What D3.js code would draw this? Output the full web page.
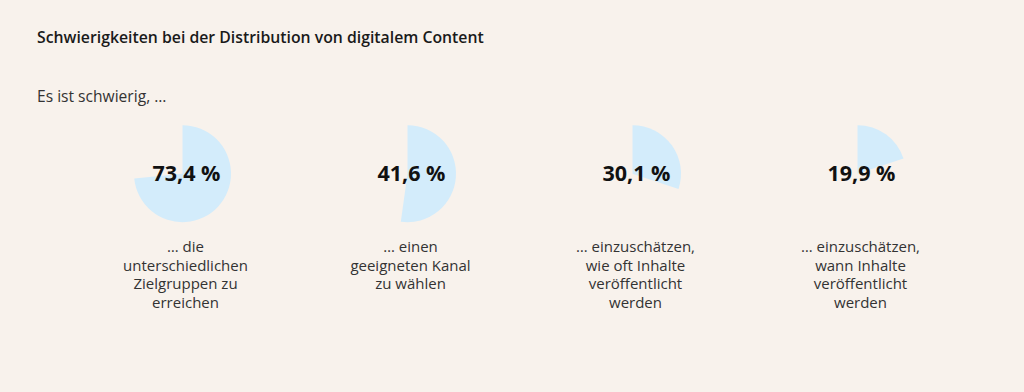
<!DOCTYPE html>
<html>
<head>
<meta charset="utf-8">
<script src="https://cdn.jsdelivr.net/npm/d3@7"></script>
<style>
  html, body { margin: 0; padding: 0; background: #f8f2ec; }
  svg { display: block; font-family: "Open Sans", sans-serif; }
</style>
</head>
<body>
<script>
const title = "Schwierigkeiten bei der Distribution von digitalem Content";
const subtitle = "Es ist schwierig, …";
const categories = [
  ["… die", "unterschiedlichen", "Zielgruppen zu", "erreichen"],
  ["… einen", "geeigneten Kanal", "zu wählen"],
  ["… einzuschätzen,", "wie oft Inhalte", "veröffentlicht", "werden"],
  ["… einzuschätzen,", "wann Inhalte", "veröffentlicht", "werden"]
];
const values = [73.4, 41.6, 30.1, 19.9];
const valueLabels = ["73,4 %", "41,6 %", "30,1 %", "19,9 %"];
// slice sizes as drawn in the reference picture (the second slice is drawn larger than its label)
const sliceShares = [73.4, 52.2, 30.1, 19.9];

const W = 1024, H = 392;
const svg = d3.select("body").append("svg").attr("width", W).attr("height", H);
svg.append("rect").attr("width", W).attr("height", H).attr("fill", "#f8f2ec");

svg.append("text").attr("x", 37).attr("y", 43)
  .attr("font-size", 15.8).attr("font-weight", 600).attr("fill", "#1a1a1a").text(title);
svg.append("text").attr("x", 37).attr("y", 102)
  .attr("font-size", 15.6).attr("fill", "#333").text(subtitle);

const x = d3.scaleBand().domain(d3.range(values.length)).range([70, 970]);
const angle = d3.scaleLinear().domain([0, 100]).range([0, 2 * Math.PI]);
const r = 48.5;
const cy = 173.7;
const arc = d3.arc().innerRadius(0).outerRadius(r);

const g = svg.selectAll("g.item").data(values).join("g")
  .attr("class", "item")
  .attr("transform", (d, i) => `translate(${x(i) + x.bandwidth() / 2},0)`);

g.append("path")
  .attr("transform", `translate(0,${cy})`)
  .attr("d", (d, i) => arc({ startAngle: 0, endAngle: angle(sliceShares[i]) }))
  .attr("fill", "#d3ecfb");

g.append("text")
  .attr("x", 4).attr("y", cy + 7)
  .attr("text-anchor", "middle")
  .attr("font-size", 21.5).attr("font-weight", 700).attr("fill", "#111")
  .text((d, i) => valueLabels[i]);

g.each(function(d, i) {
  const t = d3.select(this).append("text")
    .attr("text-anchor", "middle")
    .attr("font-size", 15).attr("fill", "#333");
  categories[i].forEach((line, j) => {
    t.append("tspan").attr("x", 3).attr("y", 252 + j * 18.7).text(line);
  });
});
</script>
</body>
</html>
